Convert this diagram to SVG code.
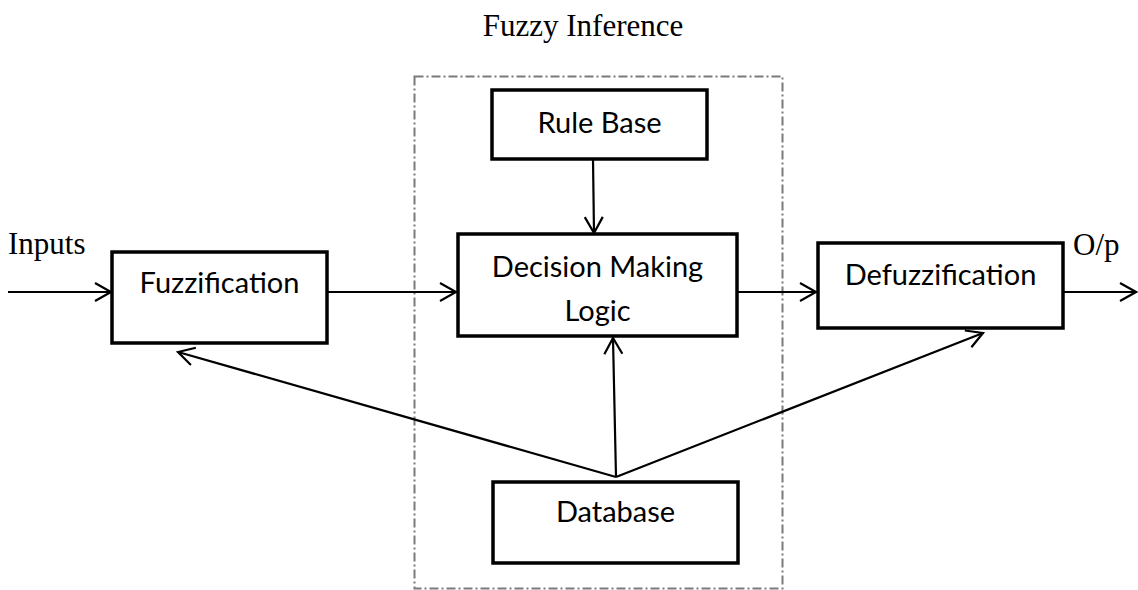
<svg xmlns="http://www.w3.org/2000/svg" width="1138" height="590" viewBox="0 0 1138 590">
  <style>
    .box { fill: #ffffff; stroke: #000000; stroke-width: 3.5; }
    .lbl { font-family: Lato, "Liberation Sans", Arial, sans-serif; font-size: 29px; fill: #000; text-anchor: middle; }
    .serif { font-family: "Liberation Serif", "Times New Roman", serif; font-size: 31px; fill: #000; }
    .conn { stroke: #000; stroke-width: 2.2; fill: none; marker-end: url(#arrow); }
    .frame { fill: none; stroke: #7a7a7a; stroke-width: 2; stroke-dasharray: 9 3 2 3; }
  </style>
  <defs>
    <marker id="arrow" markerUnits="userSpaceOnUse" markerWidth="20" markerHeight="22" refX="17" refY="10" orient="auto" overflow="visible">
      <path d="M1,1 L17,10 L1,19" fill="none" stroke="#000" stroke-width="2.2" stroke-linejoin="miter"/>
    </marker>
  </defs>
  <rect width="1138" height="590" fill="#ffffff"/>

  <g id="fuzzy-inference-frame">
    <rect class="frame" x="414.5" y="76.5" width="368" height="512"/>
    <text class="serif" x="583" y="36" text-anchor="middle">Fuzzy Inference</text>
  </g>

  <g id="connectors">
    <line class="conn" x1="8" y1="292" x2="111" y2="292"/>
    <line class="conn" x1="327" y1="292" x2="456" y2="292"/>
    <line class="conn" x1="738" y1="292" x2="816" y2="292"/>
    <line class="conn" x1="1063" y1="292" x2="1136" y2="292"/>
    <line class="conn" x1="593" y1="159" x2="594" y2="233"/>
    <line class="conn" x1="616" y1="477" x2="613" y2="338"/>
    <line class="conn" x1="616" y1="477" x2="178" y2="352"/>
    <line class="conn" x1="616" y1="477" x2="983" y2="333"/>
  </g>

  <g id="inputs-label">
    <text class="serif" x="8" y="254">Inputs</text>
  </g>
  <g id="output-label">
    <text class="serif" x="1073" y="255">O/p</text>
  </g>

  <g id="fuzzification">
    <rect class="box" x="112" y="252" width="215" height="91"/>
    <text class="lbl" x="219.5" y="293">Fuzzification</text>
  </g>

  <g id="rule-base">
    <rect class="box" x="492" y="90" width="215" height="69"/>
    <text class="lbl" x="599.5" y="133">Rule Base</text>
  </g>

  <g id="decision-making-logic">
    <rect class="box" x="458" y="234" width="279" height="102"/>
    <text class="lbl" x="597.5" y="277">Decision Making</text>
    <text class="lbl" x="597.5" y="321">Logic</text>
  </g>

  <g id="defuzzification">
    <rect class="box" x="818" y="243" width="245" height="85"/>
    <text class="lbl" x="940.5" y="285">Defuzzification</text>
  </g>

  <g id="database">
    <rect class="box" x="493" y="482" width="245" height="81"/>
    <text class="lbl" x="615.5" y="522">Database</text>
  </g>
</svg>
